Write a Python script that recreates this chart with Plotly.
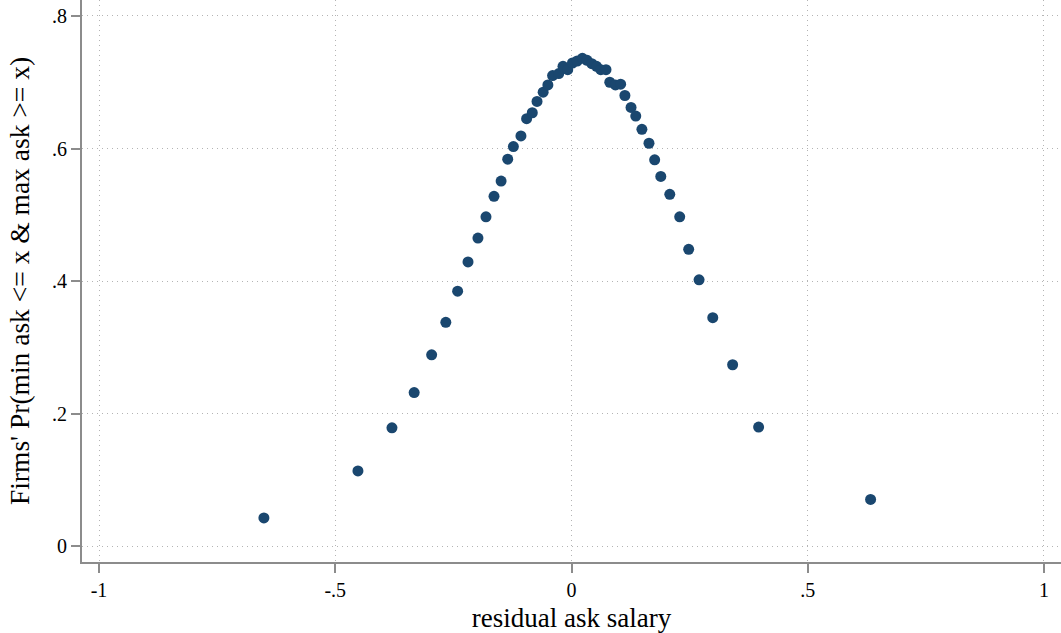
import plotly.graph_objects as go

x_vals = [-0.651, -0.452, -0.380, -0.333, -0.296, -0.266, -0.241, -0.219, -0.198, -0.181,
          -0.164, -0.149, -0.135, -0.123, -0.107, -0.095, -0.083, -0.073, -0.060, -0.050,
          -0.040, -0.027, -0.018, -0.008, 0.002, 0.012, 0.023, 0.033, 0.043, 0.053,
          0.062, 0.073, 0.081, 0.093, 0.104, 0.113, 0.126, 0.136, 0.149, 0.164,
          0.176, 0.189, 0.208, 0.229, 0.248, 0.270, 0.299, 0.341, 0.396, 0.633]
y_vals = [0.043, 0.114, 0.179, 0.232, 0.289, 0.338, 0.385, 0.429, 0.465, 0.497,
          0.528, 0.551, 0.584, 0.603, 0.619, 0.645, 0.654, 0.671, 0.685, 0.696,
          0.710, 0.713, 0.724, 0.719, 0.729, 0.732, 0.736, 0.733, 0.728, 0.724,
          0.719, 0.719, 0.700, 0.696, 0.697, 0.680, 0.662, 0.649, 0.629, 0.608,
          0.583, 0.558, 0.531, 0.497, 0.448, 0.402, 0.345, 0.274, 0.180, 0.071]

x_ticks = [-1, -0.5, 0, 0.5, 1]
x_tick_text = ["-1", "-.5", "0", ".5", "1"]
y_ticks = [0, 0.2, 0.4, 0.6, 0.8]
y_tick_text = ["0", ".2", ".4", ".6", ".8"]

FONT = "Liberation Serif"
AXIS_COLOR = "#8c8c8c"
GRID_COLOR = "#b4b4b4"

fig = go.Figure()
fig.add_trace(go.Scatter(
    x=x_vals, y=y_vals, mode="markers",
    marker=dict(color="#1a476f", size=11, line=dict(width=0)),
    showlegend=False,
))

fig.update_layout(
    width=1061, height=633,
    margin=dict(l=82, r=0, t=0, b=71),
    paper_bgcolor="white", plot_bgcolor="white",
    font=dict(family=FONT, size=20, color="black"),
    xaxis=dict(
        range=[-1.036, 1.036], automargin=False,
        tickvals=x_ticks, ticktext=x_tick_text,
        showline=True, linecolor=AXIS_COLOR, linewidth=2,
        ticks="outside", ticklen=9, tickwidth=2, tickcolor=AXIS_COLOR,
        showgrid=True, gridcolor=GRID_COLOR, griddash="1px,4px", gridwidth=1,
        zeroline=False,
        title=dict(text="residual ask salary", font=dict(size=27), standoff=8),
        tickfont=dict(size=20),
    ),
    yaxis=dict(
        range=[-0.0234, 0.824], automargin=False,
        tickvals=y_ticks, ticktext=y_tick_text,
        showline=True, linecolor=AXIS_COLOR, linewidth=2,
        ticks="outside", ticklen=9, tickwidth=2, tickcolor=AXIS_COLOR,
        showgrid=True, gridcolor=GRID_COLOR, griddash="1px,4px", gridwidth=1,
        zeroline=False,
        title=dict(text="Firms' Pr(min ask <= x & max ask >= x)", font=dict(size=27.5), standoff=14),
        tickfont=dict(size=20),
    ),
)

fig.write_html("out.html", config={"displayModeBar": False},
               post_script="document.body.style.margin='0';")
